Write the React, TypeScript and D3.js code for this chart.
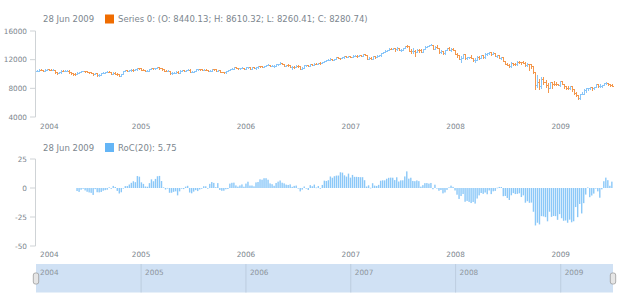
import React from 'react'
import * as d3 from 'd3'

// weekly DJIA-style bars, one per week starting Sunday 4 Jan 2004 .. 28 Jun 2009
const opens = [
  10453, 10458, 10600, 10568, 10488, 10593, 10628, 10620, 10584, 10596, 10241, 10187, 10212, 10471, 10442, 10452, 10472, 10226, 10118, 10013, 9967, 10188, 10243, 10410, 10417, 10372, 10283, 10214, 10140, 9962, 10140, 9815, 9825, 10110, 10196, 10260, 10314, 10284, 10047, 10192, 10055, 9933, 9758, 10027, 10387, 10540, 10456, 10522, 10592, 10543, 10649, 10828,
  10783, 10604, 10559, 10393, 10427, 10716, 10796, 10785, 10841, 10941, 10774, 10629, 10442, 10404, 10461, 10088, 10157, 10193, 10345, 10140, 10471, 10542, 10460, 10513, 10623, 10297, 10303, 10449, 10640, 10651, 10641, 10558, 10600, 10559, 10397, 10447, 10679, 10641, 10420, 10569, 10292, 10287, 10215, 10402, 10531, 10686, 10766, 10931, 10877, 10778, 10875, 10883,
  10718, 10959, 10960, 10667, 10907, 10794, 10920, 11115, 11062, 11022, 11076, 11280, 11280, 11109, 11120, 11137, 11347, 11367, 11578, 11380, 11144, 11278, 11247, 11001, 11015, 10990, 11150, 11091, 10739, 10868, 11219, 11240, 11088, 11381, 11284, 11464, 11392, 11560, 11508, 11679, 11850, 11961, 12002, 12090, 11986, 12108, 12342, 12280, 12194, 12307, 12445, 12343,
  12463, 12398, 12556, 12566, 12487, 12654, 12581, 12768, 12648, 12114, 12277, 12110, 12481, 12354, 12560, 12612, 12962, 13121, 13265, 13327, 13556, 13507, 13668, 13424, 13640, 13361, 13409, 13612, 13908, 13851, 13266, 13182, 13240, 13079, 13379, 13358, 13114, 13443, 13821, 13896, 14067, 14093, 13522, 13807, 13596, 13043, 13177, 12981, 13372, 13626, 13340, 13451,
  13366, 12800, 12606, 12099, 12207, 12743, 12183, 12348, 12381, 12266, 11894, 11951, 12361, 12216, 12609, 12325, 12849, 12891, 13058, 12745, 12986, 12480, 12638, 12210, 12308, 11843, 11347, 11288, 11100, 11496, 11370, 11326, 11734, 11659, 11628, 11544, 11220, 11422, 11388, 11143, 10325, 8451, 8852, 8378, 9325, 8943, 8497, 8046, 8829, 8635, 8629, 8579,
  8515, 9034, 8599, 8281, 8077, 8001, 8280, 7850, 7366, 7063, 6627, 7224, 7279, 7776, 8018, 8083, 8131, 8076, 8212, 8575, 8268, 8277, 8500, 8763, 8799, 8540, 8440,
]

const highs = [
  10560, 10640, 10680, 10610, 10630, 10750, 10700, 10660, 10680, 10620, 10300, 10290, 10500, 10540, 10520, 10570, 10490, 10320, 10150, 10080, 10230, 10290, 10450, 10460, 10480, 10400, 10320, 10290, 10160, 10180, 10170, 9960, 10130, 10230, 10320, 10360, 10360, 10300, 10210, 10250, 10080, 9970, 10060, 10410, 10570, 10580, 10550, 10640, 10650, 10700, 10850, 10870,
  10800, 10640, 10600, 10490, 10740, 10830, 10850, 10880, 10980, 10960, 10800, 10650, 10540, 10520, 10480, 10240, 10280, 10390, 10370, 10500, 10580, 10570, 10560, 10660, 10640, 10380, 10480, 10670, 10720, 10710, 10680, 10660, 10640, 10590, 10500, 10700, 10720, 10660, 10590, 10580, 10340, 10330, 10440, 10570, 10710, 10790, 10950, 10990, 10900, 10900, 10920, 10900,
  10980, 11040, 10990, 10940, 10950, 10960, 11140, 11160, 11100, 11100, 11300, 11340, 11310, 11240, 11200, 11380, 11420, 11670, 11600, 11400, 11320, 11360, 11270, 11050, 11110, 11230, 11260, 11110, 10920, 11260, 11290, 11280, 11400, 11400, 11490, 11500, 11590, 11630, 11720, 11880, 11990, 12060, 12170, 12130, 12150, 12360, 12380, 12300, 12350, 12480, 12510, 12510,
  12580, 12590, 12630, 12630, 12680, 12710, 12800, 12800, 12700, 12380, 12340, 12510, 12500, 12600, 12650, 12990, 13130, 13290, 13360, 13570, 13630, 13690, 13690, 13700, 13660, 13450, 13680, 13960, 14020, 13900, 13500, 13660, 13300, 13420, 13420, 13450, 13500, 13850, 13930, 14090, 14200, 14100, 13880, 14000, 13620, 13300, 13200, 13400, 13660, 13780, 13560, 13560,
  13380, 12900, 12700, 12460, 12800, 12760, 12400, 12400, 12690, 12270, 12180, 12450, 12500, 12660, 12680, 12880, 12960, 13100, 13060, 13030, 13000, 12690, 12680, 12400, 12350, 11860, 11480, 11400, 11640, 11560, 11530, 11870, 11810, 11700, 11750, 11720, 11500, 11450, 11400, 11150, 10330, 9800, 9270, 9650, 9650, 9160, 8800, 8950, 8850, 9030, 8950, 8650,
  9070, 9090, 8600, 8300, 8380, 8320, 8300, 7850, 7470, 7070, 7250, 7490, 7930, 8080, 8100, 8180, 8140, 8250, 8580, 8580, 8580, 8510, 8800, 8880, 8810, 8560, 8610,
]

const lows = [
  10390, 10420, 10520, 10420, 10430, 10560, 10560, 10520, 10540, 10180, 10000, 10080, 10190, 10400, 10350, 10380, 10200, 10030, 9850, 9880, 9950, 10140, 10220, 10350, 10320, 10230, 10150, 10080, 9910, 9940, 9790, 9710, 9800, 10080, 10150, 10220, 10210, 10020, 9990, 10030, 9880, 9720, 9710, 10000, 10370, 10420, 10400, 10460, 10480, 10520, 10620, 10760,
  10570, 10490, 10370, 10360, 10410, 10670, 10720, 10650, 10810, 10740, 10590, 10420, 10380, 10390, 10060, 10000, 10130, 10170, 10120, 10110, 10450, 10430, 10420, 10490, 10280, 10250, 10250, 10430, 10590, 10580, 10520, 10500, 10510, 10380, 10380, 10430, 10600, 10390, 10400, 10270, 10210, 10160, 10200, 10380, 10510, 10650, 10750, 10840, 10740, 10750, 10820, 10700,
  10690, 10900, 10640, 10650, 10770, 10740, 10900, 11010, 10960, 10970, 11060, 11220, 11090, 11060, 11030, 11110, 11310, 11350, 11350, 11100, 11100, 11140, 10960, 10700, 10900, 10950, 11040, 10700, 10680, 10850, 11100, 11050, 11070, 11250, 11260, 11350, 11380, 11460, 11490, 11660, 11830, 11920, 11980, 11940, 11960, 12090, 12240, 12100, 12170, 12290, 12320, 12330,
  12370, 12350, 12510, 12440, 12470, 12560, 12560, 12600, 12040, 12050, 12050, 12100, 12300, 12350, 12500, 12560, 12900, 13090, 13220, 13300, 13420, 13450, 13250, 13300, 13330, 13260, 13400, 13590, 13780, 13230, 13000, 12990, 12520, 13050, 13020, 13080, 13080, 13420, 13760, 13860, 14000, 13500, 13440, 13560, 13000, 12900, 12740, 12740, 13300, 13320, 13240, 13300,
  12770, 12350, 12050, 11630, 12180, 12140, 12130, 12180, 12230, 11830, 11730, 11940, 12150, 12190, 12300, 12280, 12700, 12800, 12700, 12740, 12450, 12420, 12180, 12050, 11820, 11330, 11210, 10960, 10970, 11300, 11240, 11300, 11550, 11380, 11500, 11180, 11180, 10600, 10800, 10180, 7880, 8200, 7880, 8040, 8560, 8140, 7450, 8030, 8000, 8440, 8500, 8400,
  8390, 8570, 8080, 7900, 7950, 7900, 7660, 7250, 6950, 6470, 6470, 7180, 7270, 7450, 7790, 7930, 7760, 7960, 8200, 8210, 8220, 8150, 8500, 8670, 8470, 8320, 8260,
]

const closes = [
  10458, 10600, 10568, 10488, 10593, 10628, 10620, 10584, 10596, 10241, 10187, 10212, 10471, 10442, 10452, 10472, 10226, 10118, 10013, 9967, 10188, 10243, 10410, 10417, 10372, 10283, 10214, 10140, 9962, 10140, 9815, 9825, 10110, 10196, 10260, 10314, 10284, 10047, 10192, 10055, 9933, 9758, 10027, 10387, 10540, 10456, 10522, 10592, 10543, 10649, 10828, 10783,
  10604, 10559, 10393, 10427, 10716, 10796, 10785, 10841, 10941, 10774, 10629, 10442, 10404, 10461, 10088, 10157, 10193, 10345, 10140, 10471, 10542, 10460, 10513, 10623, 10297, 10303, 10449, 10640, 10651, 10641, 10558, 10600, 10559, 10397, 10447, 10679, 10641, 10420, 10569, 10292, 10287, 10215, 10402, 10531, 10686, 10766, 10931, 10877, 10778, 10875, 10883, 10718,
  10959, 10960, 10667, 10907, 10794, 10920, 11115, 11062, 11022, 11076, 11280, 11280, 11109, 11120, 11137, 11347, 11367, 11578, 11380, 11144, 11278, 11247, 11001, 11015, 10990, 11150, 11091, 10739, 10868, 11219, 11240, 11088, 11381, 11284, 11464, 11392, 11560, 11508, 11679, 11850, 11961, 12002, 12090, 11986, 12108, 12342, 12280, 12194, 12307, 12445, 12343, 12463,
  12398, 12556, 12566, 12487, 12654, 12581, 12768, 12648, 12114, 12277, 12110, 12481, 12354, 12560, 12612, 12962, 13121, 13265, 13327, 13556, 13507, 13668, 13424, 13640, 13361, 13409, 13612, 13908, 13851, 13266, 13182, 13240, 13079, 13379, 13358, 13114, 13443, 13821, 13896, 14067, 14093, 13522, 13807, 13596, 13043, 13177, 12981, 13372, 13626, 13340, 13451, 13366,
  12800, 12606, 12099, 12207, 12743, 12183, 12348, 12381, 12266, 11894, 11951, 12361, 12216, 12609, 12325, 12849, 12891, 13058, 12745, 12986, 12480, 12638, 12210, 12308, 11843, 11347, 11288, 11100, 11496, 11370, 11326, 11734, 11659, 11628, 11544, 11220, 11422, 11388, 11143, 10325, 8451, 8852, 8378, 9325, 8943, 8497, 8046, 8829, 8635, 8629, 8579, 8515,
  9034, 8599, 8281, 8077, 8001, 8280, 7850, 7366, 7063, 6627, 7224, 7279, 7776, 8018, 8083, 8131, 8076, 8212, 8575, 8268, 8277, 8500, 8763, 8799, 8540, 8438, 8281,
]

const yearTicks = [2004, 2005, 2006, 2007, 2008, 2009]
const priceTicks = [4000, 8000, 12000, 16000]
const rocTicks = [-50, -25, 0, 25]
const rocPeriod = 20

// legend readout for the last bar
const legendDate = '28 Jun 2009'
const lastOhlc = [8440.13, 8610.32, 8260.41, 8280.74]
const lastRoc = 5.75

const RISING = '#64b5f6'
const FALLING = '#ef6c00'
// thin bars read lighter on screen, so the strokes use softer tints
const RISING_BAR = '#88c5f8'
const FALLING_BAR = '#f3974c'
const TEXT = '#7c868e'
const AXIS = '#cfd3d6'
const FONT = "'DejaVu Sans', Verdana, sans-serif"

const left = 36
const right = 613

const App: React.FC = () => {
  const dates = d3.timeWeek.range(new Date(2004, 0, 4), new Date(2009, 5, 29))
  const bars = dates.map((d, i) => ({
    date: d,
    o: opens[i],
    h: Math.max(highs[i], opens[i], closes[i]),
    l: Math.min(lows[i], opens[i], closes[i]),
    c: closes[i],
  }))

  const x = d3
    .scaleTime()
    .domain([new Date(2004, 0, 1), new Date(2009, 6, 2)])
    .range([left, right])
  const yPrice = d3.scaleLinear().domain([4000, 16000]).range([117, 31])
  const yRoc = d3.scaleLinear().domain([-50, 25]).range([246, 159])

  const roc = bars
    .map((b, i) =>
      i < rocPeriod
        ? null
        : { date: b.date, v: ((b.c - bars[i - rocPeriod].c) / bars[i - rocPeriod].c) * 100 }
    )
    .filter(Boolean) as { date: Date; v: number }[]

  const yearDates = yearTicks.map(yr => new Date(yr, 0, 1))
  const fmtNum = d3.format('.2f')

  const xLabels = (y: number) =>
    yearDates.map((d, i) => {
      const px = x(d)
      const first = px - 11 < left
      return (
        <text
          key={i}
          x={first ? px + 4 : px}
          y={y}
          textAnchor={first ? 'start' : 'middle'}
          dominantBaseline="central"
          fontSize={7.3}
          fill={TEXT}
        >
          {yearTicks[i]}
        </text>
      )
    })

  const yAxis = (ticks: number[], scale: d3.ScaleLinear<number, number>) => {
    const [r0, r1] = scale.range()
    return (
      <g>
        <line x1={left - 0.5} x2={left - 0.5} y1={r1} y2={r0} stroke={AXIS} />
        {ticks.map(t => (
          <g key={t}>
            <line x1={left - 6} x2={left - 0.5} y1={scale(t)} y2={scale(t)} stroke={AXIS} />
            <text
              x={27}
              y={scale(t)}
              textAnchor="end"
              dominantBaseline="central"
              fontSize={7.3}
              fill={TEXT}
            >
              {t}
            </text>
          </g>
        ))}
      </g>
    )
  }

  const barW = 1.4
  // snap each bar's stem to a pixel column so neighbours do not blend
  const ohlcPath = (b: (typeof bars)[number]) => {
    const px = Math.round(x(b.date)) + 0.5
    const yo = Math.round(yPrice(b.o)) + 0.5
    const yc = Math.round(yPrice(b.c)) + 0.5
    return `M${px},${Math.round(yPrice(b.h))}V${Math.round(yPrice(b.l)) + 1}M${px - 1.5},${yo}H${
      px - 0.5
    }M${px + 0.5},${yc}H${px + 1.5}`
  }

  return (
    <svg
      width={620}
      height={300}
      style={{ position: 'absolute', left: 0, top: 0, background: '#fff' }}
      fontFamily={FONT}
    >
      {/* price legend */}
      <text x={43} y={19} dominantBaseline="central" fontSize={8.5} fill={TEXT}>
        {legendDate}
      </text>
      <rect x={105} y={14.5} width={9} height={9} fill={FALLING} />
      <text x={118} y={19} dominantBaseline="central" fontSize={8.5} fill={TEXT}>
        {`Series 0: (O: ${fmtNum(lastOhlc[0])}; H: ${fmtNum(lastOhlc[1])}; L: ${fmtNum(
          lastOhlc[2]
        )}; C: ${fmtNum(lastOhlc[3])})`}
      </text>

      {yAxis(priceTicks, yPrice)}
      <g fill="none" strokeWidth={1}>
        {bars.map((b, i) => (
          <path key={i} d={ohlcPath(b)} stroke={b.c >= b.o ? RISING_BAR : FALLING_BAR} />
        ))}
      </g>
      {xLabels(126)}

      {/* RoC legend */}
      <text x={43} y={147.5} dominantBaseline="central" fontSize={8.5} fill={TEXT}>
        {legendDate}
      </text>
      <rect x={105} y={143} width={9} height={9} fill={RISING} />
      <text x={118} y={147.5} dominantBaseline="central" fontSize={8.5} fill={TEXT}>
        {`RoC(${rocPeriod}): ${fmtNum(lastRoc)}`}
      </text>

      {yAxis(rocTicks, yRoc)}
      <g fill={RISING} fillOpacity={0.75}>
        {roc.map((r, i) => (
          <rect
            key={i}
            x={x(r.date) - barW / 2}
            y={Math.min(yRoc(r.v), yRoc(0))}
            width={barW}
            height={Math.max(0.6, Math.abs(yRoc(r.v) - yRoc(0)))}
          />
        ))}
      </g>
      {xLabels(254)}

      {/* scroller */}
      <rect x={left} y={264} width={right - left} height={28.5} fill="#d0e1f4" />
      {yearDates.map((d, i) => (
        <g key={i}>
          {i > 0 && (
            <line
              x1={x(d)}
              x2={x(d)}
              y1={264}
              y2={292.5}
              stroke="#b8c8da"
              strokeWidth={0.8}
            />
          )}
          <text
            x={x(d) + 4}
            y={272}
            dominantBaseline="central"
            fontSize={7.3}
            fill="#8d959c"
          >
            {yearTicks[i]}
          </text>
        </g>
      ))}
      {[left, right].map(hx => (
        <rect
          key={hx}
          x={hx - 2.7}
          y={273}
          width={5.4}
          height={11}
          rx={2}
          fill="#e6e6e6"
          stroke="#9c9c9c"
          strokeWidth={0.8}
        />
      ))}
    </svg>
  )
}

export default App
